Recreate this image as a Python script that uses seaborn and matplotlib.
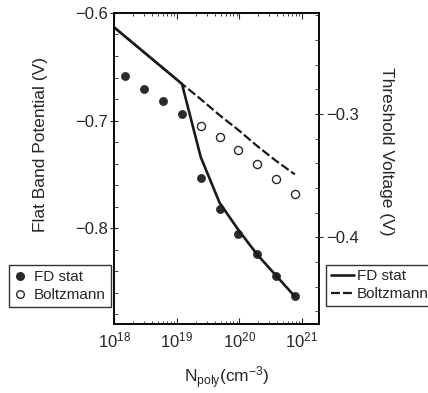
import matplotlib
matplotlib.use('Agg')
import matplotlib.pyplot as plt
import seaborn as sns
from matplotlib.lines import Line2D
from matplotlib.ticker import MultipleLocator

# poly doping (cm^-3) for the symbols
n_dop = [1.5e18, 3e18, 6e18, 1.2e19, 2.4e19, 4.8e19, 9.6e19, 1.92e20, 3.84e20, 7.68e20]
# flat band potential (V), FD statistics
vfb_fd = [-0.659, -0.671, -0.682, -0.694, -0.753, -0.782, -0.805, -0.824, -0.844, -0.863]
# flat band potential (V), Boltzmann (only where it departs from FD)
n_bz = [2.4e19, 4.8e19, 9.6e19, 1.92e20, 3.84e20, 7.68e20]
vfb_bz = [-0.705, -0.715, -0.727, -0.740, -0.754, -0.768]

# threshold voltage (V) curves
n_vth = [1e18, 1.2e19, 2.4e19, 4.8e19, 9.6e19, 1.92e20, 3.84e20, 7.68e20]
vth_fd = [-0.230, -0.2756, -0.335, -0.372, -0.394, -0.414, -0.431, -0.448]
vth_bz = [-0.230, -0.2756, -0.288, -0.301, -0.313, -0.326, -0.338, -0.349]

sns.set_style('ticks')
plt.rcParams['font.family'] = ['Liberation Sans', 'DejaVu Sans']
plt.rcParams['mathtext.fontset'] = 'custom'
plt.rcParams['mathtext.rm'] = 'Liberation Sans'
plt.rcParams['mathtext.it'] = 'Liberation Sans:italic'
plt.rcParams['axes.edgecolor'] = 'black'
plt.rcParams['axes.linewidth'] = 1.1

dot = '#2a2a2a'

fig = plt.figure(figsize=(4.28, 3.93), dpi=100)
ax = fig.add_axes([0.2675, 0.1756, 0.4778, 0.7914])
ax2 = ax.twinx()

# symbols: flat band potential
sns.scatterplot(x=n_bz, y=vfb_bz, ax=ax, color='white', edgecolor=dot,
                s=34, linewidth=1.0, zorder=3)
sns.scatterplot(x=n_dop, y=vfb_fd, ax=ax, color=dot, edgecolor=dot,
                s=34, linewidth=0.5, zorder=4)

# lines: threshold voltage
sns.lineplot(x=n_vth, y=vth_bz, ax=ax2, color='#1a1a1a', lw=1.6,
             linestyle=(0, (4, 1.4)), estimator=None, sort=False)
sns.lineplot(x=n_vth, y=vth_fd, ax=ax2, color='#1a1a1a', lw=1.9,
             estimator=None, sort=False)

ax.set_xscale('log')
ax.set_xlim(1e18, 1.87e21)
ax.set_ylim(-0.889, -0.6)
ax2.set_ylim(-0.4703, -0.2181)

ax.set_xticks([1e18, 1e19, 1e20, 1e21])
ax.set_yticks([-0.8, -0.7, -0.6])
ax.yaxis.set_minor_locator(MultipleLocator(0.02))
ax2.set_yticks([-0.4, -0.3])
ax2.yaxis.set_minor_locator(MultipleLocator(0.02))

ax.tick_params(axis='x', which='major', direction='in', top=True, length=4, labelsize=12, pad=5)
ax.tick_params(axis='x', which='minor', direction='in', top=True, length=2)
ax.tick_params(axis='y', which='major', direction='inout', length=6, labelsize=12, pad=2)
ax.tick_params(axis='y', which='minor', direction='in', length=3)
ax2.tick_params(axis='y', which='major', direction='inout', length=6, labelsize=12, pad=2)
ax2.tick_params(axis='y', which='minor', direction='in', length=3)

ax.set_ylabel('Flat Band Potential (V)', fontsize=12.5)
ax.yaxis.set_label_coords(-0.325, 0.576)
ax2.set_ylabel('Threshold Voltage (V)', fontsize=12.5, rotation=270, va='center')
ax2.yaxis.set_label_coords(1.3325, 0.556)
ax.set_xlabel(r'N$_{\mathregular{poly}}$(cm$^{\mathregular{-3}}$)', fontsize=12.5, va='center')
ax.xaxis.set_label_coords(0.55, -0.174)

# legends
sym_handles = [Line2D([], [], marker='o', ls='', color=dot, ms=5.5),
               Line2D([], [], marker='o', ls='', mfc='white', mec=dot, ms=5.5, mew=1)]
leg1 = fig.legend(sym_handles, ['FD stat', 'Boltzmann'], loc='upper left',
                  bbox_to_anchor=(0.021, 0.326), fontsize=11, frameon=True,
                  fancybox=False, edgecolor='black', handlelength=0.8,
                  handletextpad=0.5, borderpad=0.35, labelspacing=0.25,
                  borderaxespad=0)
leg1.get_frame().set_linewidth(1.0)

line_handles = [Line2D([], [], color='#1a1a1a', lw=1.9),
                Line2D([], [], color='#1a1a1a', lw=1.6, ls=(0, (4, 1.4)))]
leg2 = fig.legend(line_handles, ['FD stat', 'Boltzmann'], loc='upper left',
                  bbox_to_anchor=(0.762, 0.326), fontsize=11, frameon=True,
                  fancybox=False, edgecolor='black', handlelength=1.55,
                  handletextpad=0.15, borderpad=0.3, labelspacing=0.25,
                  borderaxespad=0)
leg2.get_frame().set_linewidth(1.0)

fig.savefig('out.png', dpi=100)
